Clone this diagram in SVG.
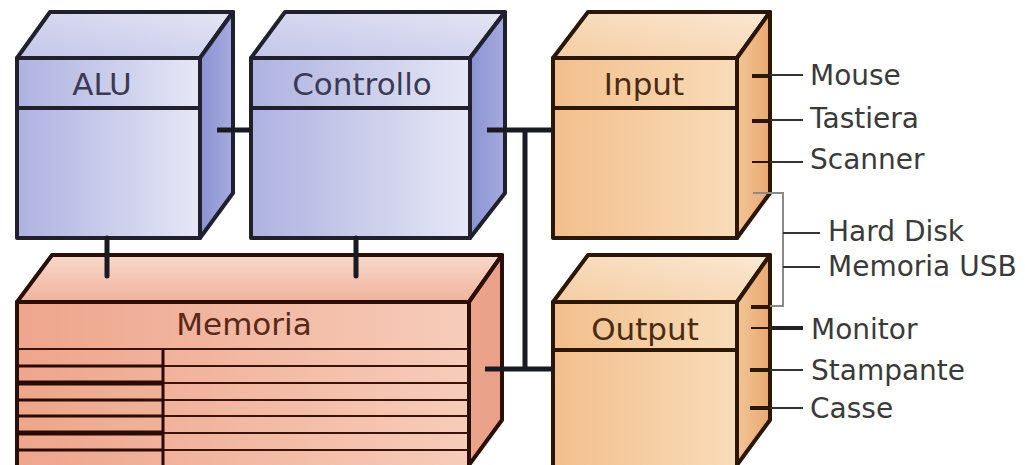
<svg xmlns="http://www.w3.org/2000/svg" width="1025" height="465" viewBox="0 0 1025 465">
<defs>
<linearGradient id="bFront" x1="0" y1="0" x2="1" y2="0"><stop offset="0" stop-color="#aeb2df"/><stop offset="1" stop-color="#e6e7f6"/></linearGradient>
<linearGradient id="bTop" x1="0" y1="1" x2="1" y2="0"><stop offset="0" stop-color="#c3c6e8"/><stop offset="1" stop-color="#e4e5f5"/></linearGradient>
<linearGradient id="bSide" x1="0" y1="0" x2="1" y2="0"><stop offset="0" stop-color="#8a92d2"/><stop offset="1" stop-color="#a6abde"/></linearGradient>
<linearGradient id="oFront" x1="0" y1="0" x2="1" y2="0"><stop offset="0" stop-color="#f2bf8c"/><stop offset="1" stop-color="#f9dcb9"/></linearGradient>
<linearGradient id="oTop" x1="0" y1="1" x2="1" y2="0"><stop offset="0" stop-color="#f4cda2"/><stop offset="1" stop-color="#fbe8d3"/></linearGradient>
<linearGradient id="oSide" x1="0" y1="0" x2="1" y2="0"><stop offset="0" stop-color="#f2c597"/><stop offset="1" stop-color="#e9a870"/></linearGradient>
<linearGradient id="mFront" x1="0" y1="0" x2="1" y2="0"><stop offset="0" stop-color="#eea58c"/><stop offset="1" stop-color="#f6ccba"/></linearGradient>
<linearGradient id="mTop" x1="0" y1="1" x2="0" y2="0"><stop offset="0" stop-color="#f0b39c"/><stop offset="1" stop-color="#f8d8ca"/></linearGradient>
<linearGradient id="mSide" x1="0" y1="0" x2="1" y2="0"><stop offset="0" stop-color="#eba48c"/><stop offset="1" stop-color="#e9a089"/></linearGradient>
</defs>
<style>
.blue{stroke:#20202e;stroke-width:4;stroke-linejoin:round}
.orange{stroke:#2b1607;stroke-width:4;stroke-linejoin:round}
.mem{stroke:#2a0f08;stroke-width:4;stroke-linejoin:round}
.title{font-family:"DejaVu Sans",Verdana,sans-serif;font-size:31px;text-anchor:middle}
.tb{fill:#3a3a55}
.to{fill:#4a2a10}
.tm{fill:#5a2818}
.lbl{font-family:"DejaVu Sans",Verdana,sans-serif;font-size:28px;fill:#3a3a3a}
.bus{stroke:#1a1a22;stroke-width:5;fill:none}
.thin{stroke:#333;stroke-width:2;fill:none}
.tick{stroke:#2b1607;stroke-width:4}
.tickt{stroke:#2b1607;stroke-width:2}
.row{stroke:#3a1208;stroke-width:2}
.rowl{stroke:#2a0a04;stroke-width:3}
.rowL{stroke:#2a0a04;stroke-width:5}
</style>

<g id="alu">
<polygon class="blue" fill="url(#bTop)" points="17,58 50,12 233,12 200,58"/>
<polygon class="blue" fill="url(#bSide)" points="200,58 233,12 233,193 200,238"/>
<rect class="blue" fill="url(#bFront)" x="17" y="58" width="183" height="180"/>
<line class="blue" x1="17" y1="108" x2="200" y2="108" stroke-width="5"/>
<text class="title tb" x="102" y="95">ALU</text>
</g>

<g id="controllo">
<polygon class="blue" fill="url(#bTop)" points="251,58 285,12 505,12 470,58"/>
<polygon class="blue" fill="url(#bSide)" points="470,58 505,12 505,193 470,238"/>
<rect class="blue" fill="url(#bFront)" x="251" y="58" width="219" height="180"/>
<line class="blue" x1="251" y1="108" x2="470" y2="108" stroke-width="5"/>
<text class="title tb" x="362" y="95">Controllo</text>
</g>

<g id="input">
<polygon class="orange" fill="url(#oTop)" points="553,58 588,12 770,12 737,58"/>
<polygon class="orange" fill="url(#oSide)" points="737,58 770,12 770,193 737,238"/>
<rect class="orange" fill="url(#oFront)" x="553" y="58" width="184" height="180"/>
<line class="orange" x1="553" y1="108" x2="737" y2="108" stroke-width="5"/>
<text class="title to" x="644" y="95">Input</text>
<line class="tick" x1="752" y1="76" x2="770" y2="76"/>
<line class="tick" x1="752" y1="121" x2="770" y2="121"/>
<line class="tickt" x1="752" y1="162" x2="770" y2="162"/>
</g>

<g id="output">
<polygon class="orange" fill="url(#oTop)" points="553,302 588,255 770,255 737,302"/>
<polygon class="orange" fill="url(#oSide)" points="737,302 770,255 770,420 737,465"/>
<rect class="orange" fill="url(#oFront)" x="553" y="302" width="184" height="175"/>
<line class="orange" x1="553" y1="350" x2="737" y2="350" stroke-width="5"/>
<text class="title to" x="645" y="340">Output</text>
<line class="tick" x1="751" y1="307" x2="770" y2="307"/>
<line class="tickt" x1="751" y1="328" x2="770" y2="328"/>
<line class="tick" x1="750" y1="370" x2="770" y2="370"/>
<line class="tick" x1="750" y1="408" x2="770" y2="408"/>
</g>

<g id="memoria">
<polygon class="mem" fill="url(#mTop)" points="17,302 52,255 502,255 469,302"/>
<polygon class="mem" fill="url(#mSide)" points="469,302 502,255 502,420 469,465"/>
<rect class="mem" fill="url(#mFront)" x="17" y="302" width="452" height="175"/>
<line class="row" x1="17" y1="349" x2="469" y2="349"/>
<line class="rowl" x1="17" y1="366" x2="163" y2="366"/>
<line class="rowL" x1="17" y1="383" x2="163" y2="383"/>
<line class="rowl" x1="17" y1="400" x2="163" y2="400"/>
<line class="rowl" x1="17" y1="416" x2="163" y2="416"/>
<line class="rowL" x1="17" y1="433" x2="163" y2="433"/>
<line class="rowl" x1="17" y1="450" x2="163" y2="450"/>
<line class="row" x1="163" y1="366" x2="469" y2="366"/>
<line class="row" x1="163" y1="383" x2="469" y2="383"/>
<line class="row" x1="163" y1="400" x2="469" y2="400"/>
<line class="row" x1="163" y1="416" x2="469" y2="416"/>
<line class="row" x1="163" y1="433" x2="469" y2="433"/>
<line class="row" x1="163" y1="450" x2="469" y2="450"/>
<line x1="163" y1="349" x2="163" y2="470" stroke="#2a0a04" stroke-width="3"/>
<text class="title tm" x="244" y="335">Memoria</text>
</g>

<g id="connectors">
<line class="bus" x1="217" y1="130" x2="251" y2="130"/>
<line class="bus" x1="487" y1="130" x2="553" y2="130"/>
<line class="bus" x1="525" y1="130" x2="525" y2="369"/>
<line class="bus" x1="485" y1="369" x2="553" y2="369"/>
<line class="bus" x1="107" y1="238" x2="107" y2="276" stroke-width="6" stroke-linecap="round"/>
<line class="bus" x1="356" y1="238" x2="356" y2="276" stroke-width="6" stroke-linecap="round"/>
<path d="M753,193 H783 V306 H770" fill="none" stroke="#8a8a8a" stroke-width="2"/>
<line class="thin" x1="770" y1="75" x2="803" y2="75"/>
<line class="thin" x1="770" y1="120" x2="803" y2="120"/>
<line class="thin" x1="770" y1="162" x2="803" y2="162"/>
<line class="thin" x1="783" y1="233" x2="820" y2="233"/>
<line class="thin" x1="783" y1="267" x2="820" y2="267"/>
<line x1="770" y1="328" x2="803" y2="328" stroke="#222" stroke-width="4"/>
<line class="thin" x1="770" y1="370" x2="803" y2="370"/>
<line class="thin" x1="770" y1="408" x2="803" y2="408"/>
</g>

<g id="labels">
<text class="lbl" x="810" y="85">Mouse</text>
<text class="lbl" x="810" y="128">Tastiera</text>
<text class="lbl" x="810" y="169">Scanner</text>
<text class="lbl" x="828" y="241">Hard Disk</text>
<text class="lbl" x="828" y="276">Memoria USB</text>
<text class="lbl" x="811" y="339">Monitor</text>
<text class="lbl" x="811" y="380">Stampante</text>
<text class="lbl" x="810" y="418">Casse</text>
</g>
</svg>
